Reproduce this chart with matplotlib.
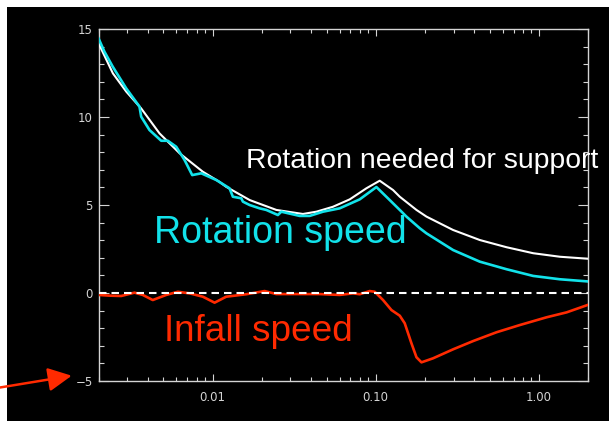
import matplotlib
matplotlib.use("Agg")
import matplotlib.pyplot as plt
from matplotlib.patches import Rectangle
from matplotlib.ticker import FixedLocator, NullFormatter, FixedFormatter
import numpy as np

# ---------------- data ----------------
support_x = [0.002, 0.00245, 0.00296, 0.00365, 0.00473, 0.00628, 0.00872, 0.0110,
             0.0121, 0.0169, 0.0246, 0.0358, 0.0433, 0.0547, 0.0693, 0.0877, 0.1058,
             0.1277, 0.1404, 0.1777, 0.2047, 0.298, 0.4345, 0.634, 0.923, 1.345, 1.98]
support_y = [14.19, 12.48, 11.44, 10.49, 9.07, 7.94, 6.89, 6.32,
             6.04, 5.28, 4.72, 4.49, 4.62, 4.90, 5.32, 5.95, 6.38,
             5.85, 5.47, 4.72, 4.34, 3.58, 3.01, 2.60, 2.26, 2.06, 1.95]

rot_x = [0.002, 0.002175, 0.002445, 0.002956, 0.003566, 0.003652, 0.004107, 0.004846,
         0.005319, 0.005989, 0.006733, 0.007506, 0.008527, 0.01054, 0.01271, 0.01332,
         0.0150, 0.01535, 0.01687, 0.01943, 0.02135, 0.02515, 0.02639, 0.03418, 0.03937,
         0.0475, 0.06013, 0.07976, 0.1010, 0.1219, 0.1404, 0.1543, 0.1862, 0.2047,
         0.2981, 0.4345, 0.6338, 0.9226, 1.345, 1.978]
rot_y = [14.47, 13.71, 12.86, 11.63, 10.59, 10.02, 9.26, 8.65,
         8.65, 8.31, 7.56, 6.70, 6.80, 6.42, 5.95, 5.47,
         5.38, 5.19, 5.00, 4.81, 4.72, 4.43, 4.62, 4.38, 4.38,
         4.62, 4.81, 5.32, 6.02, 5.28, 4.72, 4.34, 3.68, 3.39,
         2.44, 1.78, 1.35, 0.97, 0.78, 0.66]

infall_x = [0.002, 0.002334, 0.002754, 0.003323, 0.003736, 0.004302, 0.0052, 0.006126,
            0.007225, 0.00872, 0.01029, 0.01213, 0.0161, 0.02084, 0.02459, 0.03418,
            0.04533, 0.06013, 0.07255, 0.07976, 0.09188, 0.0986, 0.1109, 0.1249,
            0.1404, 0.1506, 0.1656, 0.1777, 0.1907, 0.2247, 0.2981, 0.3954, 0.5503,
            0.7645, 1.115, 1.479, 1.99]
infall_y = [-0.11, -0.15, -0.17, 0.02, -0.11, -0.40, -0.11, 0.07,
            -0.02, -0.21, -0.55, -0.21, -0.07, 0.11, -0.06, -0.06,
            -0.06, -0.11, -0.02, -0.07, 0.11, 0.07, -0.40, -0.97,
            -1.29, -1.72, -2.86, -3.65, -3.94, -3.71, -3.20, -2.73, -2.23,
            -1.82, -1.38, -1.10, -0.68]

zero_level = 0.0

x_major = [0.01, 0.1, 1.0]
x_labels = ["0.01", "0.10", "1.00"]
y_major = [-5, 0, 5, 10, 15]
y_labels = ["\u22125", "0", "5", "10", "15"]

labels = ["Rotation needed for support", "Rotation speed", "Infall speed"]

# ---------------- styling ----------------
W, H = 609, 421
CYAN = "#12e2ea"
RED = "#ff2a00"
GREY = "#d4d4d4"

fig = plt.figure(figsize=(W / 100, H / 100), dpi=100)
fig.patch.set_facecolor("white")
fig.add_artist(Rectangle((7 / W, 0), 1 - 7 / W, (H - 7) / H, transform=fig.transFigure,
                         facecolor="black", edgecolor="none", zorder=-5))

left, right, top, bottom = 98.5, 588, 29, 381
ax = fig.add_axes([left / W, 1 - bottom / H, (right - left) / W, (bottom - top) / H])
ax.set_facecolor("black")

ax.plot(support_x, support_y, color="white", lw=1.5, zorder=3)
ax.plot(rot_x, rot_y, color=CYAN, lw=1.9, zorder=4)
ax.plot(infall_x, infall_y, color=RED, lw=1.9, zorder=4)
ax.axhline(zero_level, color="white", lw=1.5, ls=(0, (3.6, 2.4)), zorder=5)

ax.set_xscale("log")
ax.set_xlim(0.002, 2.0)
ax.set_ylim(-5, 15)

ax.xaxis.set_major_locator(FixedLocator(x_major))
ax.xaxis.set_major_formatter(FixedFormatter(x_labels))
minors = [m * 10.0 ** e for e in (-3, -2, -1, 0) for m in range(2, 10)]
ax.xaxis.set_minor_locator(FixedLocator(minors))
ax.xaxis.set_minor_formatter(NullFormatter())
ax.yaxis.set_major_locator(FixedLocator(y_major))
ax.yaxis.set_major_formatter(FixedFormatter(y_labels))
ax.yaxis.set_minor_locator(FixedLocator(np.arange(-5, 16, 1)))

for s in ax.spines.values():
    s.set_color(GREY)
    s.set_linewidth(1.0)

ax.tick_params(which="both", direction="in", top=True, right=True,
               colors=GREY, width=0.8, labelsize=8.5, labelcolor=GREY)
ax.tick_params(axis="x", which="major", length=5, pad=7)
ax.tick_params(axis="x", which="minor", length=2.9)
ax.tick_params(axis="y", which="major", length=7.2, pad=4)
ax.tick_params(axis="y", which="minor", length=3.6)

font = ["Liberation Sans", "DejaVu Sans"]
fig.text(246 / W, 1 - 168.3 / H, labels[0], color="white", fontsize=20.4,
         family=font, ha="left", va="baseline")
fig.text(154 / W, 1 - 243.3 / H, labels[1], color=CYAN, fontsize=27.0,
         family=font, ha="left", va="baseline")
fig.text(164 / W, 1 - 341 / H, labels[2], color=RED, fontsize=26.6,
         family=font, ha="left", va="baseline")

ax.annotate("", xy=(71.7, H - 375.7), xytext=(0, H - 387.5),
            xycoords="figure pixels", textcoords="figure pixels",
            annotation_clip=False,
            arrowprops=dict(arrowstyle="-|>,head_length=1.44,head_width=0.72",
                            color=RED, lw=1.8, shrinkA=0, shrinkB=0))

fig.savefig("out.png", dpi=100, facecolor=fig.get_facecolor())
